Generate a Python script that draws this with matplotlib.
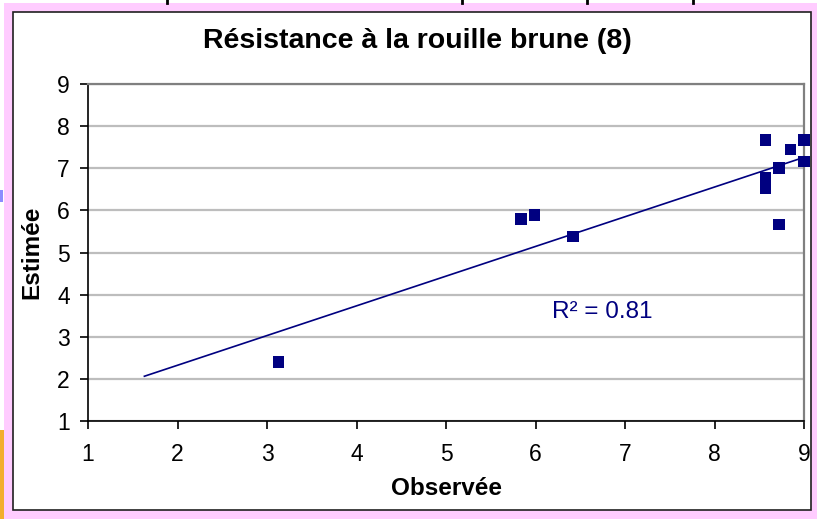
import numpy as np
import matplotlib
matplotlib.use("Agg")
import matplotlib.pyplot as plt
from matplotlib.patches import Rectangle
from matplotlib.lines import Line2D

plt.rcParams['font.family'] = ['Liberation Sans', 'DejaVu Sans']

# Observed vs. estimated brown rust resistance scores
observee = [3.13, 5.84, 5.99, 6.42, 8.57, 8.57, 8.57, 8.72, 8.72, 8.85, 9.00, 9.00]
estimee = [2.40, 5.80, 5.89, 5.38, 7.67, 6.77, 6.53, 7.01, 5.67, 7.44, 7.67, 7.16]
r2_label = "R² = 0.81"
title = "Résistance à la rouille brune (8)"
x_ticks = [1, 2, 3, 4, 5, 6, 7, 8, 9]
y_ticks = [1, 2, 3, 4, 5, 6, 7, 8, 9]

W, H = 817, 519
fig = plt.figure(figsize=(W / 100, H / 100), dpi=100)
fig.patch.set_facecolor("white")


def px(x, y, w, h):
    """Convert a pixel box (top-left origin) to figure fractions."""
    return [x / W, 1 - (y + h) / H, w / W, h / H]


# Slide background: pink frame with the white chart box inside
bg = fig.add_axes([0, 0, 1, 1])
bg.set_xlim(0, W)
bg.set_ylim(H, 0)
bg.axis("off")
bg.add_patch(Rectangle((4, 3), W - 4, H - 3, facecolor="#FFCCFF", edgecolor="none"))
bg.add_patch(Rectangle((0, 430), 4, 89, facecolor="#F2AE2E", edgecolor="none"))
bg.add_patch(Rectangle((0, 190), 3, 12, facecolor="#8C8CFF", edgecolor="none"))
bg.add_patch(Rectangle((13, 12), 798, 498, facecolor="white", edgecolor="#202020", linewidth=1.2))

# Table rules of the neighbouring slide content along the top edge
for xb in [167, 462, 587, 693]:
    bg.add_line(Line2D([xb, xb], [0, 3], color="black", linewidth=2))

ax = fig.add_axes(px(88, 84, 716, 337))
ax.set_facecolor("white")

# Linear trend fitted to the points, extended 1.5 units backwards
slope, intercept = np.polyfit(observee, estimee, 1)
xt = np.array([min(observee) - 1.5, max(observee)])
ax.plot(xt, slope * xt + intercept, color="#000080", linewidth=1.2, zorder=3)

ax.scatter(observee, estimee, marker="s", s=68, color="#000080",
           edgecolors="none", zorder=4, clip_on=False)

ax.set_xlim(1, 9)
ax.set_ylim(1, 9)
ax.set_xticks(x_ticks)
ax.set_yticks(y_ticks)
ax.yaxis.grid(True, color="#BDBDBD", linewidth=1.6)
ax.set_axisbelow(True)
for side in ["top", "right"]:
    ax.spines[side].set_color("#808080")
    ax.spines[side].set_linewidth(1.6)
for side in ["left", "bottom"]:
    ax.spines[side].set_color("black")
    ax.spines[side].set_linewidth(1.2)
ax.tick_params(axis="both", direction="out", length=6, width=1.2,
               labelsize=16.5, colors="black")
ax.tick_params(axis="y", pad=7)
ax.tick_params(axis="x", pad=10)

ax.set_xlabel("Observée", fontsize=17.5, fontweight="bold", labelpad=8)
ax.set_ylabel("Estimée", fontsize=17.5, fontweight="bold", labelpad=10)

ax.text(6.75, 3.58, r2_label, fontsize=17.5, color="#000080", ha="center", va="center")

fig.text(417 / W, 1 - 41 / H, title, fontsize=20.5, fontweight="bold",
         ha="center", va="center")

fig.savefig("out.png", dpi=100, facecolor=fig.get_facecolor())
